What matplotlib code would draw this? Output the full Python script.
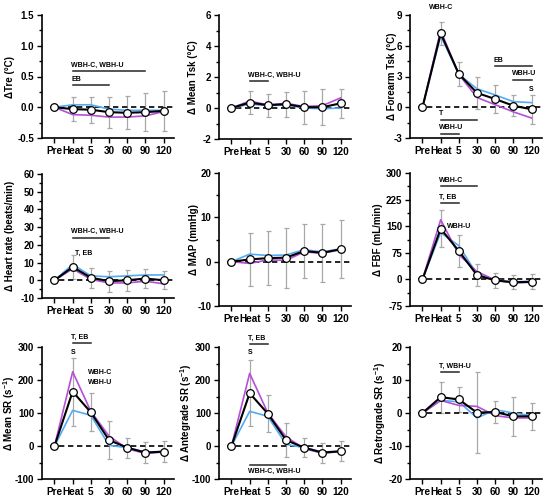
import matplotlib
matplotlib.use('Agg')
import matplotlib.pyplot as plt
from matplotlib.ticker import MultipleLocator, FormatStrFormatter

plt.rcParams['font.family'] = ['Liberation Sans', 'DejaVu Sans']
plt.rcParams['font.weight'] = 'bold'
plt.rcParams['axes.unicode_minus'] = False
plt.rcParams['mathtext.fontset'] = 'custom'
plt.rcParams['mathtext.rm'] = 'Liberation Sans:bold'
plt.rcParams['mathtext.it'] = 'Liberation Sans:bold'
plt.rcParams['mathtext.bf'] = 'Liberation Sans:bold'
plt.rcParams['mathtext.default'] = 'rm'

timepoints = ['Pre', 'Heat', '5', '30', '60', '90', '120']

# ---------------- data ----------------
tre_mean = [0, -0.03, -0.04, -0.08, -0.09, -0.08, -0.06]
tre_sd = [0, 0.20, 0.21, 0.25, 0.27, 0.31, 0.33]
tre_blue = [0, 0.04, 0.04, -0.03, -0.05, -0.05, -0.05]
tre_purple = [0, -0.12, -0.13, -0.16, -0.16, -0.14, -0.07]

tsk_mean = [0, 0.35, 0.18, 0.25, 0.05, 0.05, 0.30]
tsk_sd = [0, 0.75, 0.73, 0.80, 1.05, 1.15, 0.95]
tsk_blue = [0, 0.25, 0.15, 0.20, 0.0, -0.05, 0.0]
tsk_purple = [0, 0.45, 0.20, 0.30, 0.10, 0.15, 0.65]

fa_mean = [0, 7.2, 3.25, 1.4, 0.8, 0.15, -0.2]
fa_sd = [0, 1.1, 1.15, 1.6, 1.4, 1.05, 1.4]
fa_blue = [0, 7.0, 3.2, 1.8, 1.2, 0.55, 0.45]
fa_purple = [0, 7.5, 3.2, 0.95, 0.25, -0.45, -1.05]

hr_mean = [0, 7.5, 1.5, -0.5, 0, 1.0, 0]
hr_sd = [0, 7.0, 5.7, 6.0, 6.0, 5.2, 5.0]
hr_blue = [0, 9.0, 2.5, 2.0, 2.5, 3.0, 3.0]
hr_purple = [0, 6.5, 0.5, -1.5, -1.5, -0.5, -2.0]

map_mean = [0, 0.5, 0.8, 0.9, 2.4, 2.0, 2.8]
map_sd = [0, 6.0, 6.1, 6.8, 6.0, 6.5, 6.5]
map_blue = [0, 1.7, 1.4, 1.5, 2.7, 2.2, 2.9]
map_purple = [0, -0.4, 0.4, 0.3, 2.2, 1.9, 2.7]

fbf_mean = [0, 143, 80, 12, -3, -8, -7]
fbf_sd = [0, 52, 45, 31, 21, 20, 21]
fbf_blue = [0, 132, 95, 15, -2, -7, -5]
fbf_purple = [0, 168, 70, 22, -2, -10, -8]

msr_mean = [0, 165, 102, 18, -5, -20, -17]
msr_sd = [0, 103, 58, 57, 30, 32, 31]
msr_blue = [0, 108, 93, 2, -5, -18, -17]
msr_purple = [0, 225, 105, 30, -8, -23, -18]

asr_mean = [0, 160, 98, 18, -5, -20, -16]
asr_sd = [0, 100, 57, 52, 29, 30, 30]
asr_blue = [0, 105, 90, 5, -5, -18, -16]
asr_purple = [0, 220, 100, 28, -8, -22, -17]

rsr_mean = [0, 4.8, 4.1, 0.1, 0.3, -1.0, -1.0]
rsr_sd = [0, 4.7, 3.9, 12.2, 3.2, 5.9, 4.0]
rsr_blue = [0, 3.8, 3.4, -1.5, 1.0, 0.0, -0.8]
rsr_purple = [0, 3.8, 2.3, 2.0, -0.8, -1.5, -1.5]

# significance bars: (start index, end index, y, text, side)
tre_bars = [(1, 5, 0.59, 'WBH-C, WBH-U', 'above'), (1, 3, 0.36, 'EB', 'above')]
tsk_bars = [(1, 2, 1.73, 'WBH-C, WBH-U', 'above')]
fa_bars = [(4, 6, 4.0, 'EB', 'above'), (5, 6, 2.7, 'WBH-U', 'above'),
           (1, 3, -1.2, 'T', 'above'), (1, 2, -2.6, 'WBH-U', 'above')]
hr_bars = [(1, 3, 24, 'WBH-C, WBH-U', 'above')]
fbf_bars = [(1, 3, 262, 'WBH-C', 'above'), (1, 2, 215, 'T, EB', 'above')]
msr_bars = [(1, 2, 311, 'T, EB', 'above')]
asr_bars = [(1, 2, 309, 'T, EB', 'above'), (1, 3, -57, 'WBH-C, WBH-U', 'below')]
rsr_bars = [(1, 2, 12.4, 'T, WBH-U', 'above')]

# free labels: (x, y, text, ha, va)
fa_labels = [(1, 9.4, 'WBH-C', 'center', 'bottom'), (6, 1.4, 'S', 'center', 'bottom')]
hr_labels = [(1.15, 13, 'T, EB', 'left', 'bottom')]
fbf_labels = [(1.35, 150, 'WBH-U', 'left', 'center')]
msr_labels = [(1, 283, 'S', 'center', 'center'), (1.85, 223, 'WBH-C', 'left', 'center'),
              (1.85, 193, 'WBH-U', 'left', 'center')]
asr_labels = [(1, 283, 'S', 'center', 'center')]

# layout: (axes left px, top px, bottom px, ylabel centre x px)
panels = [
    dict(mean=tre_mean, sd=tre_sd, blue=tre_blue, purple=tre_purple, ylabel='ΔTre (°C)',
         ylim=(-0.5, 1.5), major=0.5, minor=0.25, fmt='%.1f', bars=tre_bars, labels=[],
         box=(42, 15, 138, 10)),
    dict(mean=tsk_mean, sd=tsk_sd, blue=tsk_blue, purple=tsk_purple, ylabel='Δ Mean Tsk (°C)',
         ylim=(-2, 6), major=2, minor=1, fmt='%d', bars=tsk_bars, labels=[],
         box=(219, 15, 139, 193)),
    dict(mean=fa_mean, sd=fa_sd, blue=fa_blue, purple=fa_purple, ylabel='Δ Forearm Tsk (°C)',
         ylim=(-3, 9), major=3, minor=1.5, fmt='%d', bars=fa_bars, labels=fa_labels,
         box=(410, 15, 138, 392)),
    dict(mean=hr_mean, sd=hr_sd, blue=hr_blue, purple=hr_purple, ylabel='Δ Heart rate (beats/min)',
         ylim=(-10, 60), major=10, minor=5, fmt='%d', bars=hr_bars, labels=hr_labels,
         box=(42, 174, 298, 10)),
    dict(mean=map_mean, sd=map_sd, blue=map_blue, purple=map_purple, ylabel='Δ MAP (mmHg)',
         ylim=(-10, 20), major=10, minor=5, fmt='%d', bars=[], labels=[],
         box=(219, 173, 306, 194)),
    dict(mean=fbf_mean, sd=fbf_sd, blue=fbf_blue, purple=fbf_purple, ylabel='Δ FBF (mL/min)',
         ylim=(-75, 300), major=75, minor=37.5, fmt='%d', bars=fbf_bars, labels=fbf_labels,
         box=(410, 173, 306, 378)),
    dict(mean=msr_mean, sd=msr_sd, blue=msr_blue, purple=msr_purple, ylabel=r'Δ Mean SR (s$^{-1}$)',
         ylim=(-100, 300), major=100, minor=50, fmt='%d', bars=msr_bars, labels=msr_labels,
         box=(42, 347, 479, 9)),
    dict(mean=asr_mean, sd=asr_sd, blue=asr_blue, purple=asr_purple, ylabel=r'Δ Antegrade SR (s$^{-1}$)',
         ylim=(-100, 300), major=100, minor=50, fmt='%d', bars=asr_bars, labels=asr_labels,
         box=(219, 347, 479, 186)),
    dict(mean=rsr_mean, sd=rsr_sd, blue=rsr_blue, purple=rsr_purple, ylabel=r'Δ Retrograde SR (s$^{-1}$)',
         ylim=(-20, 20), major=10, minor=5, fmt='%d', bars=rsr_bars, labels=[],
         box=(410, 347, 479, 380)),
]

W, H = 546, 496
AX_W = 131.5
BLUE = '#55aaf2'
PURPLE = '#b64fd8'
GREY = '#a8a8a8'

fig = plt.figure(figsize=(W / 100, H / 100), dpi=100)

x = list(range(len(timepoints)))
for p in panels:
    left, top, bottom, lab_x = p['box']
    ax = fig.add_axes([left / W, 1 - bottom / H, AX_W / W, (bottom - top) / H])
    ax.errorbar(x, p['mean'], yerr=p['sd'], fmt='none', ecolor=GREY, elinewidth=0.9,
                capsize=1.8, capthick=0.9, zorder=1)
    ax.axhline(0, xmin=0.06, xmax=1, color='black', lw=1.2, ls=(0, (3.2, 2.2)), zorder=2)
    ax.plot(x, p['blue'], color=BLUE, lw=1.2, zorder=3)
    ax.plot(x, p['purple'], color=PURPLE, lw=1.2, zorder=3)
    ax.plot(x, p['mean'], color='black', lw=1.5, marker='o', ms=5.5, mfc='white',
            mec='black', mew=0.9, zorder=5)

    ax.set_xlim(-0.688, 6.55)
    ax.set_ylim(*p['ylim'])
    ax.set_xticks(x)
    ax.set_xticklabels(timepoints, fontsize=7.2, fontweight='bold')
    ax.yaxis.set_major_locator(MultipleLocator(p['major']))
    ax.yaxis.set_minor_locator(MultipleLocator(p['minor']))
    ax.yaxis.set_major_formatter(FormatStrFormatter(p['fmt']))
    for lab in ax.get_yticklabels():
        lab.set_fontsize(7)
        lab.set_fontweight('bold')
    ax.tick_params(axis='both', direction='out', length=3.5, width=1.0, pad=2)
    ax.tick_params(axis='y', which='minor', direction='out', length=2.2, width=1.0)
    ax.tick_params(axis='x', which='minor', length=0)
    for s in ['top', 'right']:
        ax.spines[s].set_visible(False)
    for s in ['left', 'bottom']:
        ax.spines[s].set_linewidth(1.2)
    ax.set_ylabel(p['ylabel'], fontsize=7, fontweight='bold')
    ax.yaxis.set_label_coords((lab_x - left) / AX_W, 0.5)
    ax.yaxis.label.set_verticalalignment('center')

    for (i0, i1, yb, txt, side) in p['bars']:
        ax.plot([x[i0], x[i1]], [yb, yb], color='#262626', lw=1.1, clip_on=False, zorder=4)
        if side == 'above':
            ax.annotate(txt, xy=(x[i0], yb), xytext=(-1, 1.8), textcoords='offset points',
                        ha='left', va='bottom', fontsize=5, fontweight='bold',
                        annotation_clip=False)
        else:
            ax.annotate(txt, xy=(x[i0], yb), xytext=(-1, -2.5), textcoords='offset points',
                        ha='left', va='top', fontsize=5, fontweight='bold',
                        annotation_clip=False)
    for (lx, ly, txt, ha, va) in p['labels']:
        ax.text(lx, ly, txt, ha=ha, va=va, fontsize=5, fontweight='bold', clip_on=False)

fig.savefig('out.png', dpi=100)
